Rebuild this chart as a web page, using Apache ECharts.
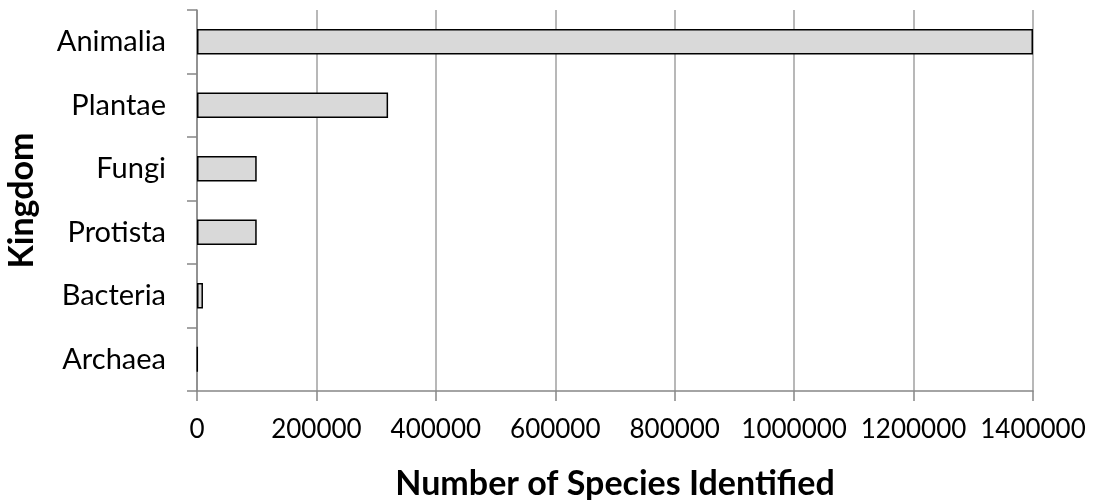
<!DOCTYPE html>
<html>
<head>
<meta charset="utf-8">
<script src="https://cdn.jsdelivr.net/npm/echarts@6/dist/echarts.min.js"></script>
<style>
html,body{margin:0;padding:0;background:#fff;}
#chart{width:1094px;height:500px;}
</style>
</head>
<body>
<div id="chart"></div>
<script>
const categories = ["Animalia", "Plantae", "Fungi", "Protista", "Bacteria", "Archaea"];
const speciesCounts = [1400000, 320000, 100000, 100000, 10000, 1000];
const xTicks = [0, 200000, 400000, 600000, 800000, 1000000, 1200000, 1400000];

const chart = echarts.init(document.getElementById('chart'), null, {renderer: 'canvas'});
const font = 'Lato, "Open Sans", sans-serif';
chart.setOption({
  animation: false,
  backgroundColor: '#ffffff',
  grid: {left: 197, right: 61, top: 10, bottom: 109, containLabel: false, outerBoundsMode: 'none'},
  xAxis: {
    type: 'value',
    min: xTicks[0],
    max: xTicks[xTicks.length - 1],
    interval: xTicks[1] - xTicks[0],
    name: 'Number of Species Identified',
    nameLocation: 'middle',
    nameGap: 76,
    nameTextStyle: {fontFamily: font, fontWeight: 'bold', fontSize: 34, color: '#000'},
    axisLine: {show: true, lineStyle: {color: '#868686', width: 1.5}},
    axisTick: {show: true, inside: false, length: 10, lineStyle: {color: '#868686', width: 1.5}},
    axisLabel: {fontFamily: font, fontSize: 26, color: '#000', margin: 26, formatter: v => String(v)},
    splitLine: {show: true, lineStyle: {color: '#a0a0a0', width: 1.5}}
  },
  yAxis: {
    type: 'category',
    data: categories,
    inverse: true,
    name: 'Kingdom',
    nameLocation: 'middle',
    nameGap: 158,
    nameRotate: 90,
    nameTextStyle: {fontFamily: font, fontWeight: 'bold', fontSize: 34, color: '#000'},
    axisLine: {show: true, lineStyle: {color: '#868686', width: 1.5}},
    axisTick: {show: true, inside: false, length: 10, alignWithLabel: false, lineStyle: {color: '#868686', width: 1.5}},
    axisLabel: {fontFamily: font, fontSize: 29, color: '#000', margin: 31},
    splitLine: {show: false}
  },
  series: [{
    type: 'bar',
    data: speciesCounts,
    barCategoryGap: '60%',
    itemStyle: {color: '#d9d9d9', borderColor: '#000000', borderWidth: 1.5}
  }]
});
</script>
</body>
</html>
